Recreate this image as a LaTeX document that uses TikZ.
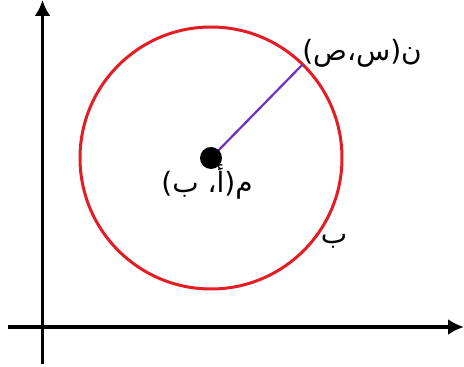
\documentclass[tikz,border=0pt]{standalone}
\usepackage{fontspec}
\newfontfamily\arabicfont[Script=Arabic]{DejaVu Sans}
\TeXXeTstate=1
\usetikzlibrary{arrows.meta,calc}
\definecolor{circred}{RGB}{228,28,36}
\definecolor{radpurple}{RGB}{112,48,190}
\tikzset{
  axis/.style={line width=3.2pt,-{Latex[length=16pt,width=16pt]}},
  lbl/.style={font=\arabicfont\fontsize{28}{32}\selectfont,inner sep=0pt}
}
\begin{document}
\begin{tikzpicture}[x=1pt,y=1pt]
\useasboundingbox (0,0) rectangle (464,367);
\coordinate (xs) at (8,40);
\coordinate (xe) at (464,40);
\coordinate (ys) at (42.5,3);
\coordinate (ye) at (42.5,367);
\draw[axis] (xs) -- (xe);
\draw[axis] (ys) -- (ye);
\coordinate (c) at (211,209);
\draw[circred,line width=3pt] (c) circle (131);
\coordinate (n) at ($(c)+(45.6:131)$);
\draw[radpurple,line width=2.2pt] (c) -- (n);
\node[circle,fill=black,minimum size=22pt,inner sep=0pt] (m) at (c) {};
\node[lbl] (ln) at (362,314) {\beginR ن(س،ص)\endR};
\node[lbl] (lm) at (207,185) {\beginR م(أ، ب)\endR};
\node[lbl] (lb) at (334,126) {\beginR ب\endR};
\end{tikzpicture}
\end{document}
